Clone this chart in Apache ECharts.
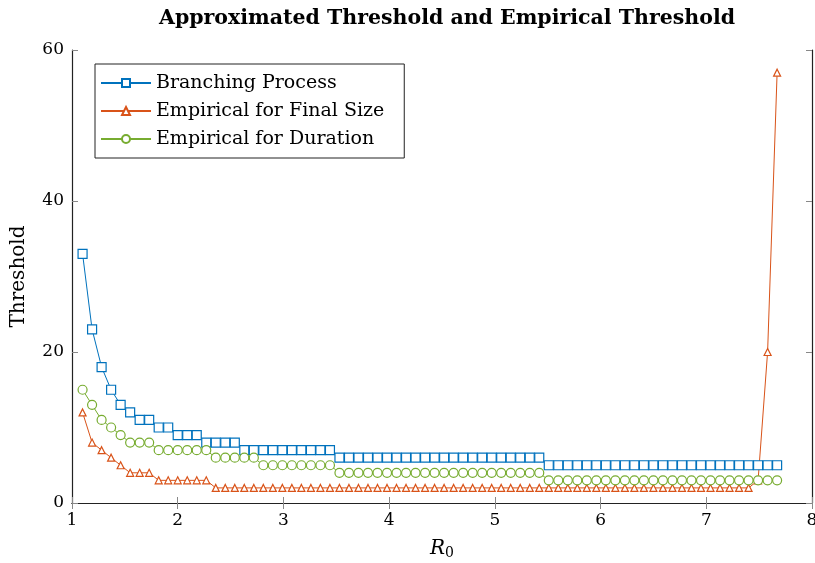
<!DOCTYPE html>
<html><head><meta charset="utf-8">
<script src="https://cdn.jsdelivr.net/npm/echarts@6/dist/echarts.min.js"></script>
<style>html,body{margin:0;padding:0;background:#fff}#c{width:815px;height:563px}</style>
</head><body><div id="c"></div>
<script>
const r0 = [1.10,1.19,1.28,1.37,1.46,1.55,1.64,1.73,1.82,1.91,
  2.00,2.09,2.18,2.27,2.36,2.45,2.54,2.63,2.72,2.81,2.90,
  2.99,3.08,3.17,3.26,3.35,3.44,3.53,3.62,3.71,3.80,3.89,
  3.98,4.07,4.16,4.25,4.34,4.43,4.52,4.61,4.70,4.79,4.88,
  4.97,5.06,5.15,5.24,5.33,5.42,5.51,5.60,5.69,5.78,5.87,
  5.96,6.05,6.14,6.23,6.32,6.41,6.50,6.59,6.68,6.77,6.86,
  6.95,7.04,7.13,7.22,7.31,7.40,7.49,7.58,7.67];
const branching = [33,23,18,15,13,12,11,11,10,10,9,9,9,8,8,8,8,
  7,7,7,7,7,7,7,7,7,7,
  6,6,6,6,6,6,6,6,6,6,6,6,6,6,6,6,6,6,6,6,6,6,
  5,5,5,5,5,5,5,5,5,5,5,5,5,5,5,5,5,5,5,5,5,5,5,5,5];
const finalSize = [12,8,7,6,5,4,4,4,3,3,3,3,3,3,
  2,2,2,2,2,2,2,2,2,2,2,2,2,2,2,2,2,2,2,2,2,2,2,2,2,2,2,2,2,2,2,2,2,2,2,2,2,2,2,2,2,2,2,2,2,2,2,2,2,2,2,2,2,2,2,2,2,
  3,20,57];
const duration = [15,13,11,10,9,8,8,8,7,7,7,7,7,7,6,6,6,6,6,
  5,5,5,5,5,5,5,5,
  4,4,4,4,4,4,4,4,4,4,4,4,4,4,4,4,4,4,4,4,4,4,
  3,3,3,3,3,3,3,3,3,3,3,3,3,3,3,3,3,3,3,3,3,3,3,3,3];
const xTicks = [1,2,3,4,5,6,7,8];
const yTicks = [0,20,40,60];
const seriesNames = ['Branching Process','Empirical for Final Size','Empirical for Duration'];

const FONT = 'DejaVu Serif';
const zip = arr => r0.map((x,i)=>[x,arr[i]]);
const chart = echarts.init(document.getElementById('c'), null, {renderer:'canvas'});
const baseAxis = {
  axisLine:{show:true,lineStyle:{color:'#222',width:1.2}},
  axisTick:{show:true,inside:true,length:6,lineStyle:{color:'#888'}},
  splitLine:{show:false}
};
function mk(name,data,color,symbol,size){
  return {name,type:'line',data:zip(data),symbol,symbolSize:size,showSymbol:true,
    lineStyle:{color,width:1},itemStyle:{color:'#fff',borderColor:color,borderWidth:1.2},
    emphasis:{disabled:true},animation:false,z:3};
}
chart.setOption({
  animation:false,
  backgroundColor:'#fff',
  title:{text:'Approximated Threshold and Empirical Threshold',left:442,top:3,textAlign:'center',
    textStyle:{fontFamily:FONT,fontWeight:'bold',fontSize:20.5,color:'#000'}},
  grid:{left:72,right:3,top:50,bottom:60,containLabel:false,outerBoundsMode:'none'},
  legend:{orient:'vertical',left:95,top:64,padding:[9,20,9,5],itemGap:8,itemWidth:50,itemHeight:10,
    borderColor:'#222',borderWidth:1,backgroundColor:'#fff',
    textStyle:{fontFamily:FONT,fontSize:19,lineHeight:20,color:'#000',padding:[0,0,0,0]},
    data:seriesNames},
  xAxis:[
    Object.assign({},baseAxis,{type:'value',min:1,max:8,interval:1,position:'bottom',
      axisLabel:{fontFamily:FONT,fontSize:17,color:'#000',margin:9,formatter:v=>xTicks.includes(v)?String(v):''},
      name:'{i|R}{s|0}',nameLocation:'middle',nameGap:34,
      nameTextStyle:{rich:{i:{fontFamily:FONT,fontStyle:'italic',fontSize:20,color:'#000'},s:{fontFamily:FONT,fontSize:14,color:'#000',verticalAlign:'bottom',padding:[9,0,0,0]}}}}),
    Object.assign({},baseAxis,{type:'value',min:1,max:8,interval:1,position:'top',axisLabel:{show:false}})
  ],
  yAxis:[
    Object.assign({},baseAxis,{type:'value',min:0,max:60,interval:20,position:'left',
      axisLabel:{fontFamily:FONT,fontSize:17,color:'#000',margin:8,formatter:v=>yTicks.includes(v)?String(v):''},
      name:'Threshold',nameLocation:'middle',nameGap:43,
      nameTextStyle:{fontFamily:FONT,fontSize:20,color:'#000'}}),
    Object.assign({},baseAxis,{type:'value',min:0,max:60,interval:20,position:'right',axisLabel:{show:false}})
  ],
  series:[
    mk(seriesNames[0],branching,'#0072BD','rect',9),
    mk(seriesNames[1],finalSize,'#D95319','triangle',7),
    mk(seriesNames[2],duration,'#77AC30','circle',9)
  ]
});
</script></body></html>
